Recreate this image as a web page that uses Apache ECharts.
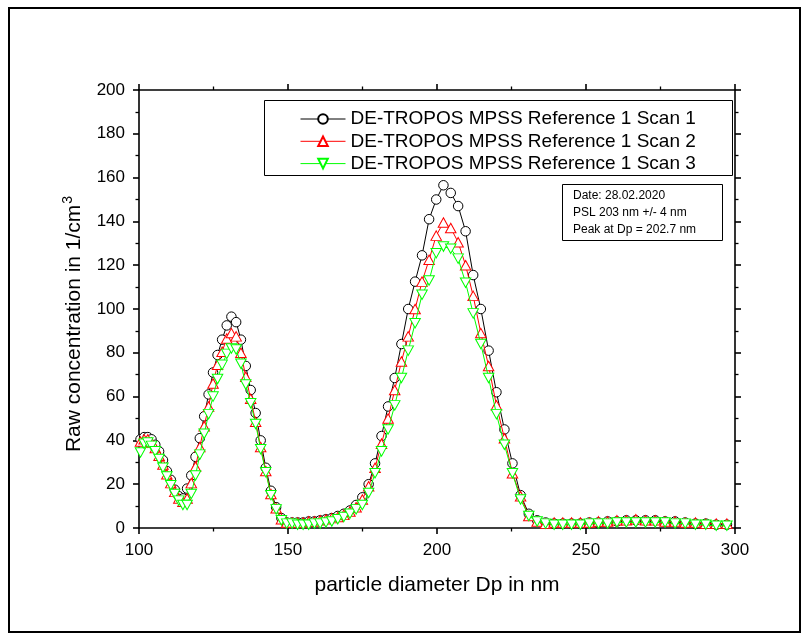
<!DOCTYPE html>
<html><head><meta charset="utf-8">
<script src="https://cdn.jsdelivr.net/npm/echarts@6/dist/echarts.min.js"></script>
<style>html,body{margin:0;padding:0;background:#fff}#c{width:810px;height:640px}</style>
</head><body><div id="c"></div>
<script>
// particle diameter Dp in nm (bin centres)
const diameters = [
100.50,101.72,102.95,104.20,105.46,106.74,108.04,109.35,110.67,112.01,
113.37,114.74,116.14,117.54,118.97,120.41,121.87,123.35,124.84,126.36,
127.89,129.44,131.01,132.60,134.20,135.83,137.48,139.14,140.83,142.54,
144.27,146.02,147.79,149.58,151.39,153.23,155.08,156.96,158.87,160.79,
162.74,164.71,166.71,168.73,170.78,172.85,174.94,177.06,179.21,181.38,
183.58,185.81,188.06,190.34,192.65,194.98,197.35,199.74,202.16,204.61,
207.09,209.60,212.14,214.71,217.32,219.95,222.62,225.32,228.05,230.81,
233.61,236.44,239.31,242.21,245.15,248.12,251.13,254.17,257.25,260.37,
263.53,266.72,269.96,273.23,276.54,279.89,283.29,286.72,290.20,293.71,
297.28];
const scan1 = [
40.5,41.5,41.5,40.5,38,35,31,26,22,17.5,
14.5,13.5,18,24,32.5,41,51,61,71,79,86,92.5,96.5,94,86,74,63,52.5,40,27.5,17,9.5,4.5,2.5,
2.5,2.5,2.5,3,3,3.5,4,4.5,5.5,6.5,8,10.5,
14,20,29.5,42,55.5,68.5,84,100,112.5,124.5,141,150,156.5,153,147,135.5,115.5,100,81,62,45,29.5,15,6.5,3.5,2.5,
2,2,2,2,2.5,2.5,3,3,3.5,3.5,3.5,3.5,3,3,2.5,2,2,1.5,1.5];
const scan2 = [
39.5,40.5,40.5,39,36.5,33,29,24.5,20.5,16.5,
13.5,12,13.5,20.5,28,37,46.5,55.5,66,74.5,80.5,86.5,89,87.5,80,69,59,48.5,37,26,15.5,9,4,2.5,
2.5,2.5,2.5,3,3,3.5,4,4.5,5,6,7.5,9.5,
13,19,27.5,38.5,50,63,76,87.5,100,112.5,122.5,133.5,139.5,137,130.5,120,106,89,74,56,41,25,14.5,5.5,3,2,
2.5,2.5,2.5,2.5,2.5,3,3,3.5,3.5,4,3.5,3.5,3,3,2.5,2.5,2,2,2];
const scan3 = [
34.5,38.5,39,37.5,35,31.5,27.5,23.5,19.5,15.5,
12.5,10.5,10.5,15.5,24,33.5,43,52,60,68,74.5,79.5,82,81.5,75,65.5,57,47.5,36,25.5,15,8.5,3.5,2,
2,1.5,1.5,1.5,2,2,2.5,3,4,5,6.5,8.5,
10.5,16,25,35,45,56,68.5,81,93.5,106.5,113,125.5,128.5,127.5,123,112,98,84,68.5,52,38,25,13,5.5,3,2,
1.5,1.5,1.5,1.5,2,2,2,2.5,2.5,2.5,2.5,2.5,2.5,2,2,1.5,1.5,1,1];
const seriesNames = ['DE-TROPOS MPSS Reference 1 Scan 1','DE-TROPOS MPSS Reference 1 Scan 2','DE-TROPOS MPSS Reference 1 Scan 3'];
const infoLines = ['Date: 28.02.2020','PSL 203 nm +/- 4 nm','Peak at Dp = 202.7 nm'];
const xRange = [100, 300], xStep = 50;
const yRange = [0, 200], yStep = 20;

const FONT = '"Liberation Sans", Arial, sans-serif';
const chart = echarts.init(document.getElementById('c'), null, {renderer:'canvas'});

function axisCommon(showLabel){
  return {
    axisLine:{show:true, onZero:false, lineStyle:{color:'#000', width:1.6}},
    axisTick:{show:true, inside:false, length:6, lineStyle:{color:'#000', width:1.6}},
    minorTick:{show:true, splitNumber:2, length:3.5, lineStyle:{color:'#000', width:1.3}},
    splitLine:{show:false}, minorSplitLine:{show:false},
    axisLabel:{show:showLabel, color:'#000', fontSize:17, fontFamily:FONT, margin:14}
  };
}
const mk = (ys) => diameters.map((d,i)=>[d, ys[i]]);

const styles = [
  {color:'#000000', symbol:'circle', size:9.5, rot:0},
  {color:'#ff0000', symbol:'triangle', size:[10.5,9.5], rot:0},
  {color:'#00ff00', symbol:'triangle', size:[10.5,9.5], rot:180}
];
const datas = [scan1, scan2, scan3];

chart.setOption({
  animation:false,
  backgroundColor:'#fff',
  grid:{left:139, right:75, top:90, bottom:112, containLabel:false},
  xAxis:[
    Object.assign({type:'value', position:'bottom', min:xRange[0], max:xRange[1], interval:xStep,
      name:'particle diameter Dp in nm', nameLocation:'middle', nameGap:47,
      nameTextStyle:{color:'#000', fontSize:21, fontFamily:FONT}}, axisCommon(true)),
    Object.assign({type:'value', position:'top', min:xRange[0], max:xRange[1], interval:xStep}, axisCommon(false))
  ],
  yAxis:[
    Object.assign({type:'value', position:'left', min:yRange[0], max:yRange[1], interval:yStep,
      name:'Raw concentration in 1/cm{sup|3}', nameLocation:'middle', nameGap:52, nameRotate:90,
      nameTextStyle:{color:'#000', fontSize:21, fontFamily:FONT, padding:[0,30,0,0],
        rich:{sup:{fontSize:14, fontFamily:FONT, color:'#000', padding:[0,0,12,1]}}}}, axisCommon(true)),
    Object.assign({type:'value', position:'right', min:yRange[0], max:yRange[1], interval:yStep}, axisCommon(false))
  ],
  legend:{
    orient:'vertical', left:300, top:108, padding:0, itemGap:0.3,
    itemWidth:45, itemHeight:12,
    lineStyle:{width:1},
    textStyle:{color:'#000', fontSize:19, fontFamily:FONT, lineHeight:22},
    data:seriesNames, selectedMode:false
  },
  series: seriesNames.map((n,k)=>({
    type:'line', name:n, data:mk(datas[k]),
    symbol:styles[k].symbol, symbolSize:styles[k].size, symbolRotate:styles[k].rot,
    showSymbol:true, showAllSymbol:true, silent:true,
    lineStyle:{color:styles[k].color, width:1},
    itemStyle:{color:'#ffffff', borderColor:styles[k].color, borderWidth:1},
    emphasis:{disabled:true}, z:2+k
  })),
  graphic:[
    {type:'rect', silent:true, shape:{x:9, y:8, width:791, height:624}, style:{fill:'none', stroke:'#000', lineWidth:2}},
    {type:'rect', silent:true, shape:{x:264.5, y:100.5, width:468, height:75}, style:{fill:'none', stroke:'#000', lineWidth:1}},
    {type:'rect', silent:true, shape:{x:562.5, y:184.5, width:160, height:56}, style:{fill:'none', stroke:'#000', lineWidth:1}},
    ...infoLines.map((t,i)=>({type:'text', silent:true, left:573, top:190 + i*16.6,
      style:{text:t, fill:'#000', fontSize:12, fontFamily:FONT}}))
  ]
});
</script></body></html>
